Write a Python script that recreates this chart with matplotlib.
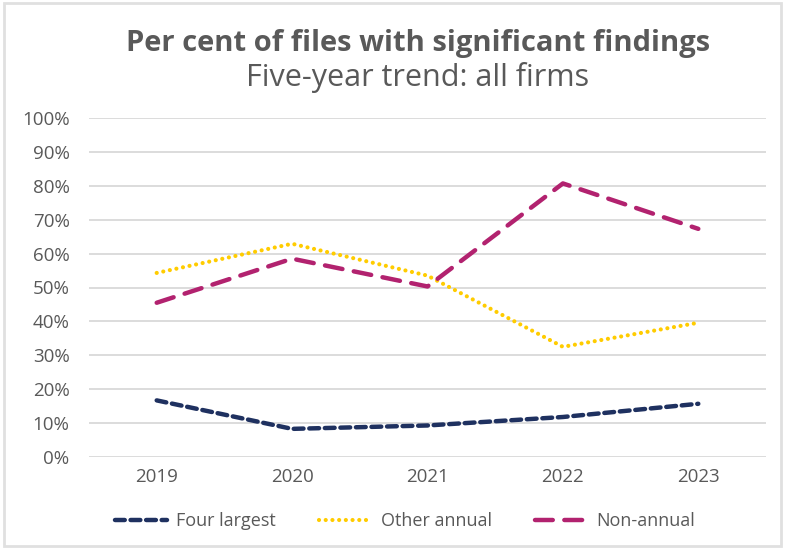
import matplotlib.pyplot as plt
from matplotlib.patches import Rectangle

years = ["2019", "2020", "2021", "2022", "2023"]
four_largest = [16.7, 8.3, 9.3, 11.8, 15.7]
other_annual = [54.3, 62.9, 53.5, 32.5, 39.6]
non_annual = [45.5, 58.5, 50.3, 80.7, 67.3]

grey = "#595959"
plt.rcParams['font.family'] = ['Open Sans', 'DejaVu Sans']

fig = plt.figure(figsize=(7.85, 5.49), dpi=100)
ax = fig.add_axes([89 / 785, 1 - 457 / 549, 677 / 785, 339 / 549])

x = range(len(years))
ax.plot(x, four_largest, color="#1F3160", lw=3.2, ls=(0, (2.2, 1.3)),
        dash_capstyle="round", solid_capstyle="round", label="Four largest")
ax.plot(x, other_annual, color="#FFCC00", lw=3.0, ls=(0, (0.01, 1.6)),
        dash_capstyle="round", label="Other annual")
ax.plot(x, non_annual, color="#B2226F", lw=3.2, ls=(0, (4.0, 2.6)),
        dash_capstyle="round", label="Non-annual")

ax.set_xlim(-0.5, len(years) - 0.5)
ax.set_ylim(0, 100)
ax.set_xticks(list(x))
ax.set_xticklabels(years)
ax.set_yticks(range(0, 101, 10))
ax.set_yticklabels([f"{v}%" for v in range(0, 101, 10)])
ax.tick_params(length=0, labelsize=13.5, colors=grey, pad=8)
ax.tick_params(axis='y', pad=14)
ax.grid(axis='y', color="#DCDCDC", lw=1.4)
ax.set_axisbelow(True)
for s in ax.spines.values():
    s.set_visible(False)

fig.text(418 / 785, 1 - 43 / 549, "Per cent of files with significant findings",
         ha="center", va="center", fontsize=21, fontweight="bold", color=grey)
fig.text(418 / 785, 1 - 78 / 549, "Five-year trend: all firms", ha="center",
         va="center", fontsize=22, color=grey)

leg = fig.legend(loc="center", bbox_to_anchor=(405 / 785, 1 - 521 / 549), ncol=3,
                 frameon=False, fontsize=13, handlelength=2.9, columnspacing=2.4,
                 handletextpad=0.5)
for t in leg.get_texts():
    t.set_color(grey)

fig.patches.append(Rectangle((0.005, 0.005), 0.99, 0.99, transform=fig.transFigure,
                             fill=False, edgecolor="#E0E0E0", lw=2))

plt.savefig("out.png", dpi=100)
